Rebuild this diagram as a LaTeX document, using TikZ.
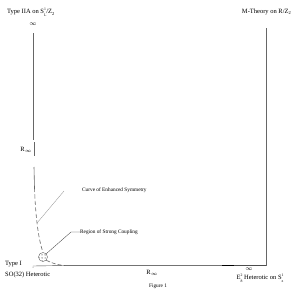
\documentclass[tikz,border=0pt]{standalone}
\usepackage{fontspec}
\setmainfont{Liberation Serif}
\usetikzlibrary{patterns}
\newcommand{\mysupsub}[2]{\rlap{\raisebox{3.3pt}{\fontsize{3.8}{4}\selectfont #1}}\raisebox{-2.3pt}{\fontsize{3.8}{4}\selectfont #2}}
\newcommand{\mysub}[1]{\raisebox{-1.4pt}{\fontsize{4.5}{4.5}\selectfont #1}}
\begin{document}
\begin{tikzpicture}[x=1pt,y=-1pt,
  lbl/.style={inner sep=0pt,font=\fontsize{6.5}{7}\selectfont},
  small/.style={inner sep=0pt,font=\fontsize{5.3}{6}\selectfont},
  axis/.style={draw=black!60,line width=0.6pt},
  leader/.style={draw=black!45,line width=0.3pt}]
\useasboundingbox[fill=white] (0,0) rectangle (300,300);
% titles
\node[lbl,anchor=west] (iia) at (7,12) {Type IIA on S\mysupsub{1}{L}/Z\mysub{2}};
\node[lbl] (infl) at (33,24) {$\infty$};
\node[lbl,anchor=east] (mth) at (291,12) {M-Theory on R/Z\mysub{2}};
% left axis
\coordinate (l0) at (33,33);
\coordinate (l1) at (33,140);
\coordinate (l2) at (34,142);
\coordinate (l3) at (34,156);
\coordinate (l4) at (34,167);
\coordinate (l5) at (34.5,188);
\node[lbl] (rinf) at (26,150) {R\mysub{$\infty$}};
\draw[axis] (l0) -- (l1);
\draw[axis] (l2) -- (l3);
\draw[axis] (l4) -- (l5);
% stipple circle
\node[circle,draw=black!60,line width=0.4pt,minimum size=9pt,inner sep=0pt,pattern=dots] (reg) at (43,257) {};
\draw[axis,dashed,dash pattern=on 4pt off 2.5pt] (l5) .. controls (35.5,215) and (38,238) .. (reg.north);
% bottom curve and axis
\coordinate (b0) at (33,266);
\coordinate (b1) at (65,265.5);
\coordinate (b2) at (222,265.5);
\coordinate (b3) at (234,265.5);
\draw[axis,dashed,dash pattern=on 4pt off 2pt] (reg.south east) .. controls (52,263) and (57,265) .. (b1);
\draw[draw=black!55,line width=1.3pt] (b1) -- (b2);
\draw[black,line width=0.6pt] (b2) -- (b3);
\draw[black!70,line width=0.4pt] (b0) -- (b1);
% right axis
\coordinate (r0) at (266,28);
\coordinate (r1) at (266,265.5);
\draw[axis] (r0) -- (r1);
\draw[black!70,line width=0.4pt] (b3) -- (r1);
\node[lbl] (rinfb) at (152,273) {R\mysub{$\infty$}};
\node[small] (fig) at (158,286) {Figure 1};
\node[lbl] (infr) at (249,269.5) {$\infty$};
\node[lbl] (e8) at (260,278) {E\mysupsub{2}{8} Heterotic on S\mysupsub{1}{z}};
\node[lbl,anchor=west] (t1) at (5,264) {Type I};
\node[circle,fill=black!60,inner sep=0pt,minimum size=1pt] (dot) at (33,267) {};
\node[lbl,anchor=west] (so) at (5,275) {SO(32) Heterotic};
% labels with leaders
\node[small,anchor=west] (ces) at (82,190) {Curve of Enhanced Symmetry};
\node[small,anchor=west] (rsc) at (80,232) {Region of Strong Coupling};
\coordinate (c0) at (37,223);
\coordinate (c1) at (64,191);
\draw[leader] (c0) -- (c1);
\coordinate (k1) at (71,232);
\draw[leader,black!80] (reg.north east) -- (k1) -- (rsc.west);
\end{tikzpicture}
\end{document}
